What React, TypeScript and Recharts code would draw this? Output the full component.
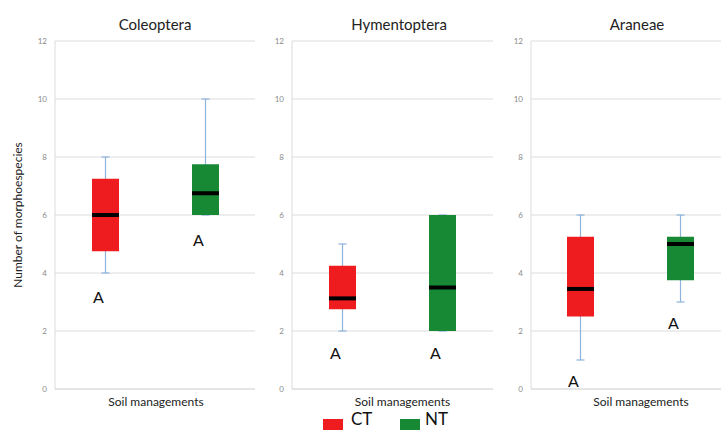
import { BarChart, Bar, XAxis, YAxis, CartesianGrid } from 'recharts'

const panels = ['Coleoptera', 'Hymentoptera', 'Araneae']
const groupLabel = 'Soil managements'
const yTicks = [0, 2, 4, 6, 8, 10, 12]

// CT (conventional tillage)
const ctMin = [4, 2, 1]
const ctQ1 = [4.75, 2.75, 2.5]
const ctMed = [6, 3.125, 3.45]
const ctQ3 = [7.25, 4.25, 5.25]
const ctMax = [8, 5, 6]
const ctLetter = ['A', 'A', 'A']
const ctLetterAt = [3.2, 1.25, 0.3]

// NT (no tillage)
const ntMin = [6, 2, 3]
const ntQ1 = [6, 2, 3.75]
const ntMed = [6.75, 3.5, 5]
const ntQ3 = [7.75, 6, 5.25]
const ntMax = [10, 6, 6]
const ntLetter = ['A', 'A', 'A']
const ntLetterAt = [5.15, 1.25, 2.3]

const RED = '#ee1c1f'
const GREEN = '#178935'
const WHISKER = '#8db3df'
const FONT = 'Lato, "Open Sans", sans-serif'

type Stats = { min: number; q1: number; med: number; q3: number; max: number; letter: string; letterAt: number }

function makeShape(key: 'ct' | 'nt', color: string) {
  return (props: any) => {
    const { x, y, width, height, payload } = props
    const s: Stats = payload[key]
    const pix = (v: number) => y + ((s.max - v) / (s.max - s.min)) * height
    const cx = x + width / 2
    return (
      <g>
        <line x1={cx} x2={cx} y1={pix(s.max)} y2={pix(s.min)} stroke={WHISKER} strokeWidth={1.2} />
        <line x1={cx - 4} x2={cx + 4} y1={pix(s.max)} y2={pix(s.max)} stroke={WHISKER} strokeWidth={1.2} />
        <line x1={cx - 4} x2={cx + 4} y1={pix(s.min)} y2={pix(s.min)} stroke={WHISKER} strokeWidth={1.2} />
        <rect x={x} y={pix(s.q3)} width={width} height={pix(s.q1) - pix(s.q3)} fill={color} />
        <line x1={x} x2={x + width} y1={pix(s.med)} y2={pix(s.med)} stroke="#000" strokeWidth={4} />
        <text x={x + 1} y={pix(s.letterAt)} dominantBaseline="central" fontSize={16} fontFamily={FONT} fill="#111">
          {s.letter}
        </text>
      </g>
    )
  }
}

const ctShape = makeShape('ct', RED)
const ntShape = makeShape('nt', GREEN)

function panelData(i: number) {
  return [
    {
      name: groupLabel,
      ct: { min: ctMin[i], q1: ctQ1[i], med: ctMed[i], q3: ctQ3[i], max: ctMax[i], letter: ctLetter[i], letterAt: ctLetterAt[i] },
      nt: { min: ntMin[i], q1: ntQ1[i], med: ntMed[i], q3: ntQ3[i], max: ntMax[i], letter: ntLetter[i], letterAt: ntLetterAt[i] },
      ctRange: [ctMin[i], ctMax[i]],
      ntRange: [ntMin[i], ntMax[i]],
    },
  ]
}

const layout = [
  { left: 0, width: 260, marginLeft: 35, marginRight: 5, dx: 1, titleX: 155 },
  { left: 260, width: 235, marginLeft: 12, marginRight: 2, dx: 10, titleX: 399 },
  { left: 495, width: 234, marginLeft: 16, marginRight: 0, dx: 11, titleX: 637 },
]

function Panel({ i }: { i: number }) {
  const l = layout[i]
  return (
    <div style={{ position: 'absolute', left: l.left, top: 0 }}>
      <BarChart
        width={l.width}
        height={430}
        data={panelData(i)}
        margin={{ top: 41, right: l.marginRight, bottom: 11, left: l.marginLeft }}
        barSize={27}
        barGap={73}
      >
        <CartesianGrid vertical={false} stroke="#dcdcdc" />
        <XAxis
          dataKey="name"
          height={30}
          axisLine={{ stroke: '#dcdcdc' }}
          tickLine={false}
          tick={{ fontSize: 12, fill: '#222', fontFamily: FONT, dx: l.dx }}
        />
        <YAxis
          width={20}
          domain={[0, 12]}
          ticks={yTicks}
          axisLine={{ stroke: '#dcdcdc' }}
          tickLine={false}
          tick={{ fontSize: 8, fill: '#8a8a8a', fontFamily: FONT }}
          label={
            i === 0
              ? {
                  value: 'Number of morphoespecies',
                  angle: -90,
                  position: 'left',
                  offset: 17,
                  style: { textAnchor: 'middle', fontSize: 12, fill: '#222', fontFamily: FONT },
                }
              : undefined
          }
        />
        <Bar dataKey="ctRange" shape={ctShape} isAnimationActive={false} />
        <Bar dataKey="ntRange" shape={ntShape} isAnimationActive={false} />
      </BarChart>
    </div>
  )
}

export default function App() {
  return (
    <div
      style={{
        position: 'fixed',
        left: 0,
        top: 0,
        width: 721,
        height: 430,
        overflow: 'hidden',
        background: '#fff',
        fontFamily: FONT,
      }}
    >
      {panels.map((p, i) => (
        <Panel key={p} i={i} />
      ))}
      {panels.map((p, i) => (
        <div
          key={p + '-t'}
          style={{
            position: 'absolute',
            top: 14,
            left: layout[i].titleX - 80,
            width: 160,
            textAlign: 'center',
            fontSize: 15,
            color: '#222',
            lineHeight: '20px',
          }}
        >
          {p}
        </div>
      ))}
      <div style={{ position: 'absolute', left: 323, top: 419, width: 20, height: 12, background: RED }} />
      <div style={{ position: 'absolute', left: 351, top: 409, fontSize: 17, lineHeight: '20px', color: '#111' }}>CT</div>
      <div style={{ position: 'absolute', left: 400, top: 419, width: 20, height: 12, background: GREEN }} />
      <div style={{ position: 'absolute', left: 425, top: 409, fontSize: 17, lineHeight: '20px', color: '#111' }}>NT</div>
    </div>
  )
}
